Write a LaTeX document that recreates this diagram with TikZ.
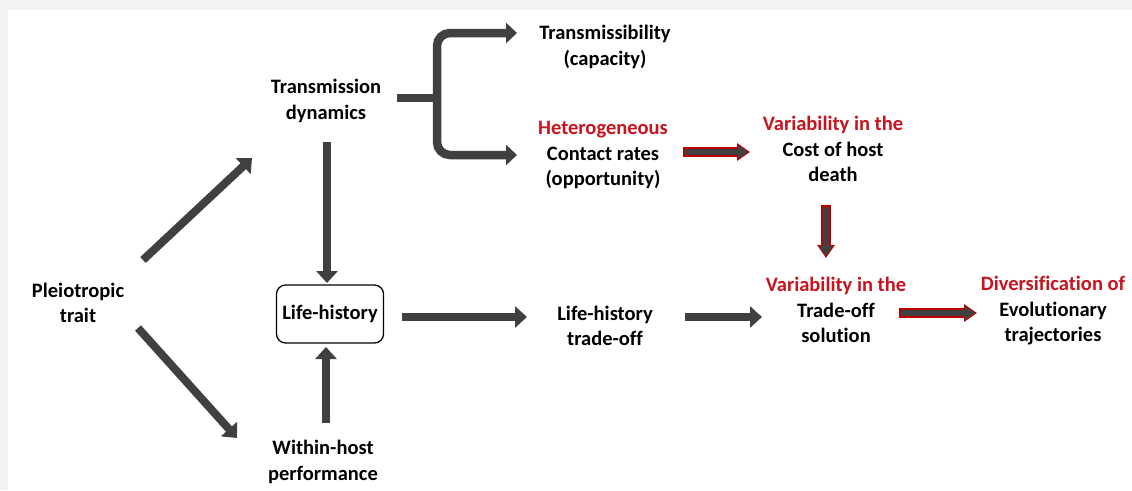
\documentclass[tikz,border=0pt]{standalone}
\usepackage{fontspec}
\setmainfont{Carlito}[Ligatures=CommonOff]
\usepackage{xcolor}
\definecolor{pageGrey}{HTML}{F2F2F2}
\definecolor{arrowGrey}{HTML}{404040}
\definecolor{textRed}{HTML}{C8141E}
\definecolor{rimRed}{HTML}{C00000}
\usepackage{tikz}
\usetikzlibrary{calc,arrows.meta}

\tikzset{
  label text/.style={font=\bfseries\fontsize{20.5}{25.5}\selectfont, align=center, inner sep=0pt},
  life box/.style={label text, draw, line width=1.3pt, rounded corners=9pt,
    minimum width=107pt, minimum height=58pt},
  grey arrow/.style={draw=arrowGrey, line width=8pt, -{Triangle[length=12pt,width=21pt]}},
  rim arrow/.style={draw=arrowGrey, line width=6.5pt, shorten <=1.6pt, shorten >=1.8pt,
    -{Triangle[length=10pt,width=13pt]},
    preaction={draw=rimRed, line width=9.5pt, shorten <=0pt, shorten >=0pt,
      -{Triangle[length=13pt,width=17pt]}}},
}

\begin{document}
\begin{tikzpicture}[x=1pt, y=-1pt]
  \useasboundingbox (0,0) rectangle (1132,490);
  % page
  \fill[pageGrey] (0,0) rectangle (1132,490);
  \fill[white] (8,10) rectangle (1132,490);
  % labels
  \node[label text] (pleio)  at (78,303)  {Pleiotropic\\trait};
  \node[label text] (trans)  at (326,101) {Transmission\\dynamics};
  \node[label text] (transm) at (605,47)  {Transmissibility\\(capacity)};
  \node[label text] (hetero) at (603,155) {\textcolor{textRed}{Heterogeneous}\\Contact rates\\(opportunity)};
  \node[label text] (cost)   at (833,149) {\textcolor{textRed}{Variability in the}\\Cost of host\\death};
  \node[life box]   (life)   at (330,314) {Life-history};
  \node[label text] (lht)    at (605,326) {Life-history\\trade-off};
  \node[label text] (sol)    at (836,310) {\textcolor{textRed}{Variability in the}\\Trade-off\\solution};
  \node[label text] (divers) at (1053,311) {\textcolor{textRed}{Diversification of}\\Evolutionary\\trajectories};
  \node[label text] (within) at (323,462) {Within-host\\performance};
  % grey arrows
  \draw[grey arrow] ($(pleio)+(65,-43)$) -- ($(trans)+(-74,57)$);
  \draw[grey arrow] ($(pleio)+(60,25)$) -- ($(within)+(-86,-24)$);
  \draw[grey arrow] ($(trans)+(1,41)$) -- ($(life)+(-3,-31)$);
  \draw[grey arrow] ($(within)+(3,-39)$) -- ($(life)+(-4,33)$);
  \draw[grey arrow] ($(life)+(72,3)$) -- ($(lht)+(-78,-9)$);
  \draw[grey arrow] ($(lht)+(80,-9)$) -- ($(sol)+(-74,7)$);
  % the fork
  \coordinate (fork) at ($(trans)+(111,-3)$);
  \coordinate (forkTop) at ($(transm)+(-88,-14)$);
  \coordinate (forkBot) at ($(hetero)+(-86,0)$);
  \draw[arrowGrey, line width=8.5pt] ($(trans)+(71,-3)$) -- (fork);
  \draw[arrowGrey, line width=8.5pt, rounded corners=13pt,
    {Triangle[length=11pt,width=20pt]}-{Triangle[length=11pt,width=20pt]}]
    (forkTop) -| (fork |- forkBot) -- (forkBot);
  % red-rimmed arrows
  \draw[rim arrow] ($(hetero)+(80,-3)$) -- ($(cost)+(-83,3)$);
  \draw[rim arrow] ($(cost)+(-7,56)$) -- ($(sol)+(-10,-52)$);
  \draw[rim arrow] ($(sol)+(63,3)$) -- ($(divers)+(-76,2)$);
\end{tikzpicture}
\end{document}
